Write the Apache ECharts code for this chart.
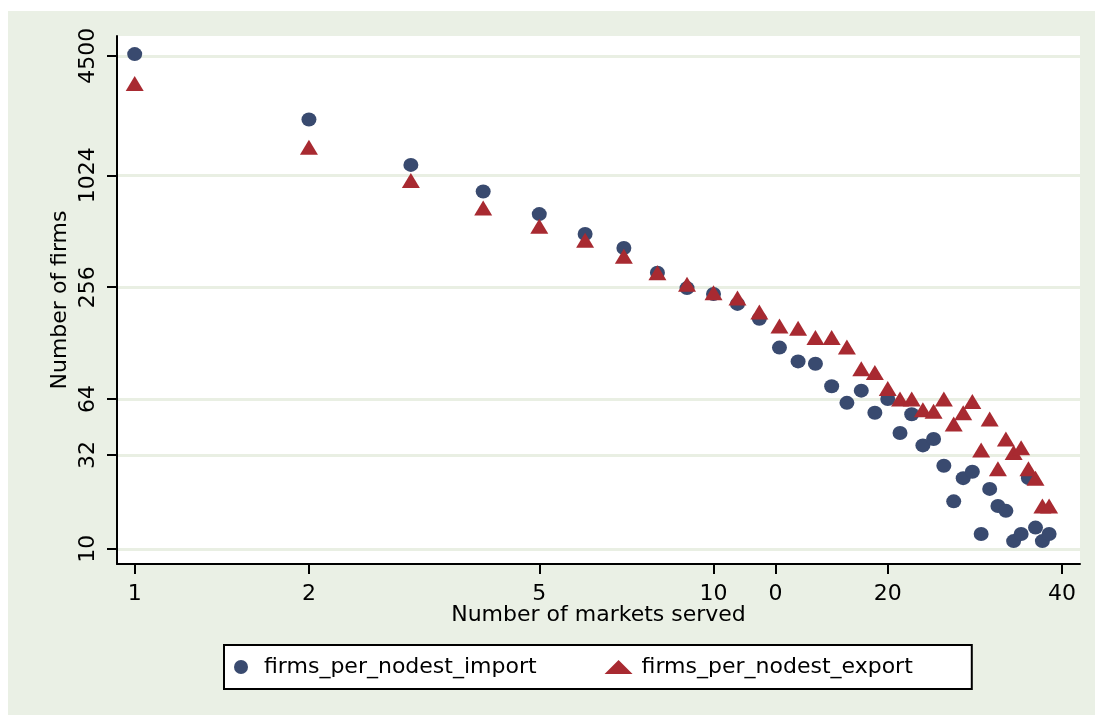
<!DOCTYPE html>
<html>
<head>
<meta charset="utf-8">
<script src="https://cdn.jsdelivr.net/npm/echarts@6/dist/echarts.min.js"></script>
<style>
  html, body { margin: 0; padding: 0; background: #fff; }
  #chart { position: absolute; left: 8px; top: 11px; width: 1087px; height: 704px; }
</style>
</head>
<body>
<div id="chart"></div>
<script>
// markets served (x) and number of firms for each series
var markets = [1, 2, 3, 4, 5, 6, 7, 8, 9, 10, 11, 12, 13, 14, 15, 16, 17, 18, 19,
    20, 21, 22, 23, 24, 25, 26, 27, 28, 29, 30, 31, 32, 33, 34, 35, 36, 37, 38];
var importFirms = [4600, 2046, 1165, 838, 633, 495, 416, 306, 253, 235, 208, 173, 121, 102, 99,
    75, 61, 71, 54, 64, 42, 53, 36, 39, 28, 18, 24, 26, 12, 21, 17, 16, 11, 12, 24, 13, 11, 12];
var exportFirms = [3190, 1449, 960, 682, 544, 458, 376, 306, 265, 239, 224, 188, 158, 154, 137,
    137, 122, 93, 89, 73, 64, 64, 56, 55, 64, 47, 54, 62, 34, 50, 27, 39, 33, 35, 27, 24, 17, 17];

// axis ticks
var yTicks = [10, 32, 64, 256, 1024, 4500];
var xTicks = [1, 2, 5, 10, 12.8, 20, 40];
var xTickLabels = ["1", "2", "5", "10", "0", "20", "40"];

var font = "DejaVu Sans";
var navy = "#394a6f";
var maroon = "#a82a31";

function pairs(xs, ys) {
    var out = [];
    for (var i = 0; i < xs.length; i++) {
        out.push([xs[i], ys[i]]);
    }
    return out;
}

function xLabel(v) {
    var best = 0;
    for (var i = 1; i < xTicks.length; i++) {
        if (Math.abs(Math.log(xTicks[i] / v)) < Math.abs(Math.log(xTicks[best] / v))) best = i;
    }
    return xTickLabels[best];
}

var myChart = echarts.init(document.getElementById("chart"));
var option = {
    backgroundColor: "#eaf0e5",
    animation: false,
    grid: {
        left: 109, top: 25, right: 15, bottom: 151,
        show: true, backgroundColor: "#fff", borderWidth: 0
    },
    xAxis: {
        type: "log",
        min: 0.932,
        max: 42.97,
        name: "Number of markets served",
        nameLocation: "middle",
        nameGap: 40,
        nameMoveOverlap: false,
        nameTextStyle: { fontFamily: font, fontSize: 22, color: "#000" },
        axisLine: { show: true, onZero: false, lineStyle: { color: "#000", width: 2 } },
        axisTick: { show: true, length: 10, lineStyle: { color: "#000", width: 2 }, customValues: xTicks },
        axisLabel: {
            customValues: xTicks,
            margin: 19,
            fontFamily: font, fontSize: 22, color: "#000",
            formatter: xLabel
        },
        splitLine: { show: false },
        minorTick: { show: false }
    },
    yAxis: {
        type: "log",
        min: 8.28,
        max: 5756,
        name: "Number of firms",
        nameLocation: "middle",
        nameRotate: 90,
        nameGap: 46,
        nameMoveOverlap: false,
        nameTextStyle: { fontFamily: font, fontSize: 22, color: "#000" },
        axisLine: { show: true, onZero: false, lineStyle: { color: "#000", width: 2 } },
        axisTick: { show: true, length: 10, lineStyle: { color: "#000", width: 2 }, customValues: yTicks },
        axisLabel: {
            customValues: yTicks,
            rotate: 90,
            margin: 18,
            fontFamily: font, fontSize: 22, color: "#000",
            formatter: function (v) { return String(Math.round(v)); }
        },
        splitLine: { show: true, lineStyle: { color: "#e9efe3", width: 3 } }
    },
    legend: {
        left: 216,
        top: 634,
        padding: [11, 59, 11, 10],
        itemGap: 68,
        itemWidth: 28,
        itemHeight: 14,
        borderColor: "#000",
        borderWidth: 2,
        backgroundColor: "#fff",
        textStyle: { fontFamily: font, fontSize: 22, color: "#000", padding: [0, 0, 0, 4] },
        data: [
            { name: "firms_per_nodest_import", icon: "circle" },
            { name: "firms_per_nodest_export", icon: "triangle" }
        ]
    },
    series: [
        {
            name: "firms_per_nodest_import",
            type: "scatter",
            symbol: "circle",
            symbolSize: [15, 14],
            itemStyle: { color: navy, opacity: 1 },
            data: pairs(markets, importFirms)
        },
        {
            name: "firms_per_nodest_export",
            type: "scatter",
            symbol: "triangle",
            symbolSize: [18, 15],
            itemStyle: { color: maroon, opacity: 1 },
            data: pairs(markets, exportFirms)
        }
    ]
};
myChart.setOption(option);
</script>
</body>
</html>
